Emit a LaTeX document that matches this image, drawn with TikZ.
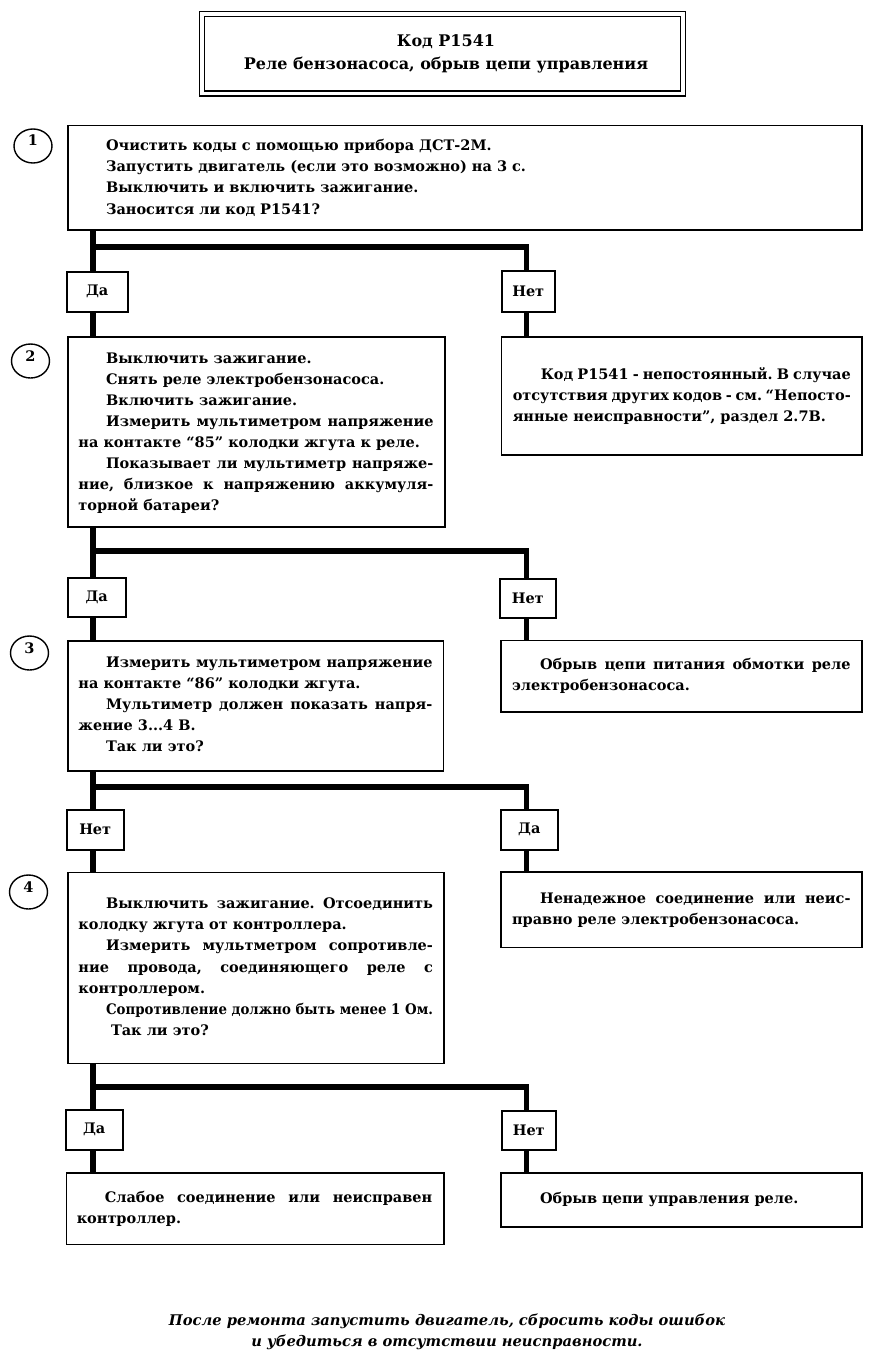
\documentclass[tikz,border=0pt]{standalone}
\usepackage{fontspec}
\usepackage{graphicx}
\setmainfont{DejaVu Serif}
\usetikzlibrary{shapes.geometric}
\frenchspacing
\newlength\bxM \newlength\bxW \newlength\bxI
\newcommand\bodyfont{\fontsize{14.5pt}{21.1pt}\selectfont\bfseries}
\newcommand\lnJ[1]{\hbox{\hspace*{\bxM}\hbox to \bxW{\rule{0pt}{13pt}#1}}}
\newcommand\lnIJ[1]{\hbox{\hspace*{\bxM}\hbox to \bxW{\rule{0pt}{13pt}\hspace*{\bxI}#1}}}
\newcommand\lnIS[1]{\hbox{\hspace*{\bxM}\hbox to \bxW{\rule{0pt}{13pt}\hspace*{\bxI}\resizebox{\dimexpr\bxW-\bxI\relax}{\height}{#1}}}}
\newcommand\lnL[1]{\hbox{\hspace*{\bxM}\rule{0pt}{13pt}#1}}
\newcommand\lnIL[1]{\hbox{\hspace*{\bxM}\rule{0pt}{13pt}\hspace*{\bxI}#1}}
% #1 W, #2 H, #3 top gap, #4 margin, #5 text width, #6 indent, #7 lines
\newcommand\bx[7]{\parbox[c][#2pt][t]{#1pt}{\bodyfont\setlength\bxM{#4pt}\setlength\bxW{#5pt}\setlength\bxI{#6pt}\hrule height 0pt depth 0pt width #1pt\vspace*{#3pt}#7}}
\tikzset{
  box/.style={draw, line width=1.5pt, inner sep=0pt, anchor=north west},
  lbl/.style={draw, line width=1.5pt, inner sep=0pt, anchor=north west, font=\bodyfont},
  conn/.style={line width=5.5pt},
  num/.style={draw, ellipse, line width=1.4pt, minimum width=38pt, minimum height=34pt, inner sep=0pt, font=\bodyfont},
  titlebox/.style={draw, double, line width=1.6pt, double distance=3.6pt, inner sep=0pt},
}
\begin{document}
\begin{tikzpicture}[x=1pt,y=-1pt]
\fill[white] (0,0) rectangle (875,1359);
\useasboundingbox (0,0) rectangle (875,1359);

% title
\node[titlebox] (title) at (442.5,53.75) {\parbox[c][79.5pt][t]{481pt}{\fontsize{16pt}{23pt}\selectfont\bfseries\hrule height 0pt depth 0pt width 481pt\vspace*{20pt}%
  \hbox to 481pt{\hspace*{7pt}\hss\rule{0pt}{13pt}Код P1541\hss}%
  \hbox to 481pt{\hspace*{7pt}\hss\rule{0pt}{13pt}Реле бензонасоса, обрыв цепи управления\hss}}};

% step numbers
\node[num] (c1) at (33,146) {\smash{1}};
\node[num] (c2) at (30.5,361) {\smash{2}};
\node[num] (c3) at (29.5,653) {\smash{3}};
\node[num] (c4) at (28.5,892) {\smash{4}};

% step 1
\node[box] (b1) at (67,125) {\bx{794}{104}{12}{38.3}{700}{0}{%
  \lnL{Очистить коды с помощью прибора ДСТ-2М.}
  \lnL{Запустить двигатель (если это возможно) на 3 с.}
  \lnL{Выключить и включить зажигание.}
  \lnL{Заносится ли код P1541?}}};
\node[lbl, minimum width=61pt, minimum height=40pt] (l1) at (66,271) {Да};
\node[lbl, minimum width=53pt, minimum height=41pt] (n1) at (501,270) {Нет};

% step 2
\node[box] (b2) at (67,336) {\bx{377}{190}{13.3}{10.7}{355}{27.6}{%
  \lnIL{Выключить зажигание.}
  \lnIL{Снять реле электробензонасоса.}
  \lnIL{Включить зажигание.}
  \lnIJ{Измерить мультиметром напряжение}
  \lnL{на контакте “85” колодки жгута к реле.}
  \lnIJ{Показывает ли мультиметр напряже-}
  \lnJ{ние, близкое к напряжению аккумуля-}
  \lnL{торной батареи?}}};
\node[box] (r1) at (500.7,336) {\bx{360.3}{118}{30}{11.3}{338}{28}{%
  \lnIJ{Код P1541 - непостоянный. В случае}
  \lnJ{отсутствия других кодов - см. “Непосто-}
  \lnL{янные неисправности”, раздел 2.7В.}}};
\node[lbl, minimum width=58pt, minimum height=39pt] (l2) at (67,577) {Да};
\node[lbl, minimum width=56pt, minimum height=39pt] (n2) at (499,578) {Нет};

% step 3
\node[box] (b3) at (67,640) {\bx{375.5}{130}{13.7}{10.7}{354}{27.6}{%
  \lnIJ{Измерить мультиметром напряжение}
  \lnL{на контакте “86” колодки жгута.}
  \lnIJ{Мультиметр должен показать напря-}
  \lnL{жение 3...4 В.}
  \lnIL{Так ли это?}}};
\node[box] (r2) at (500,639.5) {\bx{361}{71.5}{16.5}{11.3}{338.5}{28}{%
  \lnIJ{Обрыв цепи питания обмотки реле}
  \lnL{электробензонасоса.}}};
\node[lbl, minimum width=57pt, minimum height=40pt] (l3) at (66,809) {Нет};
\node[lbl, minimum width=57pt, minimum height=40pt] (n3) at (500,809) {Да};

% step 4
\node[box] (b4) at (67,871.5) {\bx{376}{191}{23.5}{10.7}{354.5}{27.6}{%
  \lnIJ{Выключить зажигание. Отсоединить}
  \lnL{колодку жгута от контроллера.}
  \lnIJ{Измерить мультметром сопротивле-}
  \lnJ{ние провода, соединяющего реле с}
  \lnL{контроллером.}
  \lnIS{Сопротивление должно быть менее 1 Ом.}
  \lnIL{\hspace*{5pt}Так ли это?}}};
\node[box] (r3) at (500,871) {\bx{361}{75.5}{18.7}{11.3}{338.5}{28}{%
  \lnIJ{Ненадежное соединение или неис-}
  \lnL{правно реле электробензонасоса.}}};
\node[lbl, minimum width=57pt, minimum height=40pt] (l4) at (65,1109) {Да};
\node[lbl, minimum width=54pt, minimum height=39pt] (n4) at (501,1110) {Нет};

% results
\node[box] (b5) at (65.5,1172) {\bx{377.5}{71.5}{16.7}{10.5}{355.5}{28}{%
  \lnIJ{Слабое соединение или неисправен}
  \lnL{контроллер.}}};
\node[box] (r4) at (500,1172) {\bx{361}{54}{18}{11.3}{338.5}{28}{%
  \lnIL{Обрыв цепи управления реле.}}};

% footer
\node[anchor=base, inner sep=0pt] (foot) at (447,1325) {\parbox[t]{800pt}{\centering\fontsize{14.7pt}{21pt}\selectfont\bfseries\itshape
  После ремонта запустить двигатель, сбросить коды ошибок\\
  и убедиться в отсутствии неисправности.}};

% connectors
\coordinate (j1) at (93,247);  \coordinate (k1) at (526.5,247);
\coordinate (j2) at (93,551);  \coordinate (k2) at (526.5,551);
\coordinate (j3) at (93,787);  \coordinate (k3) at (526.5,787);
\coordinate (j4) at (93,1087); \coordinate (k4) at (526.5,1087);

\draw[conn] (b1.south -| j1) -- (l1.north -| j1);
\draw[conn] (j1) -- (k1) -- (n1.north -| k1);
\draw[conn] (l1.south -| j1) -- (b2.north -| j1);
\draw[conn] (n1.south -| k1) -- (r1.north -| k1);

\draw[conn] (b2.south -| j2) -- (l2.north -| j2);
\draw[conn] (j2) -- (k2) -- (n2.north -| k2);
\draw[conn] (l2.south -| j2) -- (b3.north -| j2);
\draw[conn] (n2.south -| k2) -- (r2.north -| k2);

\draw[conn] (b3.south -| j3) -- (l3.north -| j3);
\draw[conn] (j3) -- (k3) -- (n3.north -| k3);
\draw[conn] (l3.south -| j3) -- (b4.north -| j3);
\draw[conn] (n3.south -| k3) -- (r3.north -| k3);

\draw[conn] (b4.south -| j4) -- (l4.north -| j4);
\draw[conn] (j4) -- (k4) -- (n4.north -| k4);
\draw[conn] (l4.south -| j4) -- (b5.north -| j4);
\draw[conn] (n4.south -| k4) -- (r4.north -| k4);
\end{tikzpicture}
\end{document}
